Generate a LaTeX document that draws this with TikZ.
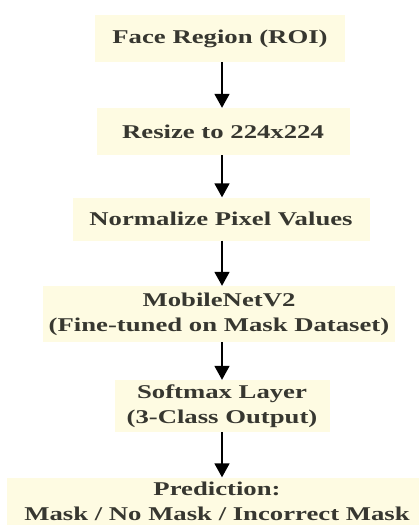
\documentclass[tikz,border=0pt]{standalone}
\usepackage{fontspec}
\setmainfont{Liberation Serif}[FakeStretch=1.37]
\usetikzlibrary{arrows.meta}
\definecolor{boxfill}{RGB}{254,251,226}
\definecolor{txt}{RGB}{55,55,48}
\begin{document}
\begin{tikzpicture}[x=1pt,y=-1pt,
  stage/.style={fill=boxfill, text=txt, inner sep=0pt, align=center,
    font=\fontsize{19.5}{25}\selectfont\bfseries},
  flow/.style={draw=black, line width=1.8pt, -{Triangle[width=15pt,length=14pt]}}]
\useasboundingbox[fill=white] (0,0) rectangle (419,525);
\coordinate (ax) at (222,0);
\node[stage, minimum width=250pt, minimum height=47pt] (roi) at (220,38.5) {Face Region (ROI)};
\node[stage, minimum width=253pt, minimum height=47pt] (resize) at (223,131.5) {Resize to 224x224};
\node[stage, minimum width=297pt, minimum height=43pt] (norm) at (221,219) {Normalize Pixel Values};
\node[stage, minimum width=352pt, minimum height=56pt] (mnet) at (219,314) {MobileNetV2\\(Fine-tuned on Mask Dataset)};
\node[stage, minimum width=215pt, minimum height=52pt] (soft) at (222,406) {Softmax Layer\\(3-Class Output)};
\node[stage, minimum width=420pt, minimum height=48pt] (pred) at (217,501.5) {Prediction:\\Mask / No Mask / Incorrect Mask};
\draw[flow] (roi.south -| ax) -- (resize.north -| ax);
\draw[flow] (resize.south -| ax) -- (norm.north -| ax);
\draw[flow] (norm.south -| ax) -- (mnet.north -| ax);
\draw[flow] (mnet.south -| ax) -- (soft.north -| ax);
\draw[flow] (soft.south -| ax) -- (pred.north -| ax);
\end{tikzpicture}
\end{document}
